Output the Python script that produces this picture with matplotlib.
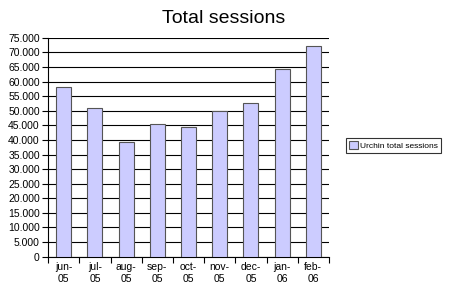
import numpy as np
import matplotlib.pyplot as plt
from matplotlib.ticker import FuncFormatter

months = ["jun-\n05", "jul-\n05", "aug-\n05", "sep-\n05", "oct-\n05",
          "nov-\n05", "dec-\n05", "jan-\n06", "feb-\n06"]
sessions = [58100, 50900, 39300, 45600, 44600, 49900, 52800, 64300, 72200]

plt.rcParams['font.family'] = ['Liberation Sans', 'DejaVu Sans']

fig = plt.figure(figsize=(4.5, 2.89), dpi=100)
ax = fig.add_axes([0.107, 0.112, 0.624, 0.757])

x = np.arange(len(months))
ax.bar(x, sessions, width=0.48, color="#ccccff", edgecolor="#555555",
       linewidth=0.8, label="Urchin total sessions", zorder=3)

ax.set_xlim(-0.5, len(months) - 0.5)
ax.set_ylim(0, 75000)
ax.set_yticks(np.arange(0, 75001, 5000))
ax.yaxis.set_major_formatter(FuncFormatter(lambda v, p: f"{int(v):,}".replace(",", ".")))
ax.grid(axis="y", color="black", linewidth=0.8, zorder=0)

ax.set_xticks(x)
ax.set_xticklabels(months)
ax.set_xticks(np.arange(-0.5, len(months), 1), minor=True)
ax.tick_params(axis="x", which="major", length=0, labelsize=7.5, pad=4)
ax.tick_params(axis="x", which="minor", length=4, width=0.8, direction="out")
ax.tick_params(axis="y", length=4, width=0.8, labelsize=7.5, pad=2)

ax.spines["top"].set_visible(False)
ax.spines["right"].set_visible(False)
for s in ("left", "bottom"):
    ax.spines[s].set_linewidth(0.8)

fig.suptitle("Total sessions", fontsize=14, x=0.497, y=0.965)

leg = fig.legend(loc="center left", bbox_to_anchor=(0.769, 0.497), fontsize=6,
                 frameon=True, fancybox=False, handlelength=1, handleheight=1,
                 handletextpad=0.3, borderpad=0.4, borderaxespad=0)
leg.get_frame().set_edgecolor("black")
leg.get_frame().set_linewidth(0.8)

fig.savefig("out.png", dpi=100)
